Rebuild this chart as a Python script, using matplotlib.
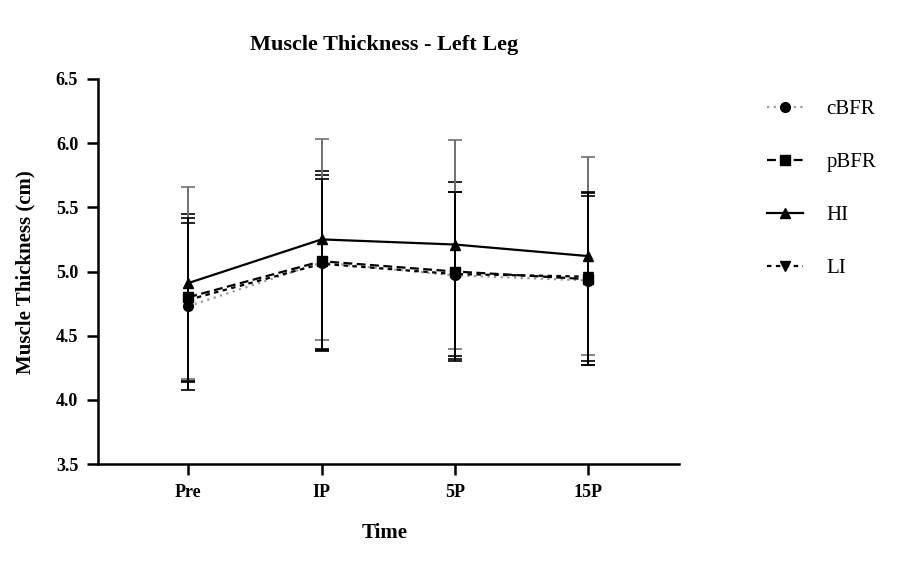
import matplotlib
matplotlib.use('Agg')
import matplotlib.pyplot as plt
import numpy as np

times = ['Pre', 'IP', '5P', '15P']
cbfr = [4.73, 5.07, 4.97, 4.93]
cbfr_sd = [0.65, 0.68, 0.65, 0.66]
pbfr = [4.80, 5.08, 5.00, 4.94]
pbfr_sd = [0.65, 0.70, 0.70, 0.67]
hi = [4.91, 5.25, 5.21, 5.12]
hi_sd = [0.75, 0.78, 0.81, 0.77]
li = [4.78, 5.06, 4.98, 4.96]
li_sd = [0.64, 0.66, 0.64, 0.66]

plt.rcParams['font.family'] = ['Liberation Serif', 'DejaVu Serif']

fig = plt.figure(figsize=(9.04, 5.71), dpi=100)
ax = fig.add_axes([0.108, 0.187, 0.643, 0.675])
x = np.arange(len(times))

# name, values, sd, marker, linestyle, line colour, errorbar colour
series = [
    ('cBFR', cbfr, cbfr_sd, 'o', (0, (1, 2)), '#9a9a9a', 'black'),
    ('pBFR', pbfr, pbfr_sd, 's', (0, (4, 2)), 'black', 'black'),
    ('HI', hi, hi_sd, '^', '-', 'black', '#707070'),
    ('LI', li, li_sd, 'v', (0, (2, 2)), 'black', 'black'),
]
handles = []
for name, vals, sd, mk, ls, col, ecol in series:
    ax.errorbar(x, vals, yerr=sd, ecolor=ecol, elinewidth=1.4, capsize=5, capthick=1.2,
                linestyle='none', marker='none')
    line, = ax.plot(x, vals, color=col, linestyle=ls, linewidth=1.6, marker=mk, markersize=7,
                    markerfacecolor='black', markeredgecolor='black', label=name)
    handles.append(line)

ax.set_xlim(-0.68, 3.68)
ax.set_ylim(3.5, 6.5)
ax.set_xticks(x)
ax.set_xticklabels(times, fontsize=13, fontweight='bold')
yt = np.arange(3.5, 6.51, 0.5)
ax.set_yticks(yt)
ax.set_yticklabels(['%.1f' % v for v in yt], fontsize=13, fontweight='bold')
ax.tick_params(direction='out', length=8, width=1.8, pad=6)
for s in ['top', 'right']:
    ax.spines[s].set_visible(False)
for s in ['left', 'bottom']:
    ax.spines[s].set_linewidth(1.8)

fig.text(0.425, 1 - 45 / 571, 'Muscle Thickness - Left Leg', fontsize=16, fontweight='bold',
         ha='center', va='center')
fig.text(0.425, 1 - 533 / 571, 'Time', fontsize=15, fontweight='bold', ha='center', va='center')
fig.text(25 / 904, 1 - 272 / 571, 'Muscle Thickness (cm)', fontsize=15, fontweight='bold',
         ha='center', va='center', rotation=90)

leg = ax.legend(handles=handles, loc='upper left', bbox_to_anchor=(1.134, 0.973), frameon=False,
                fontsize=15, handlelength=1.7, labelspacing=1.6, handletextpad=1.15, borderpad=0)

fig.savefig('out.png', dpi=100)
